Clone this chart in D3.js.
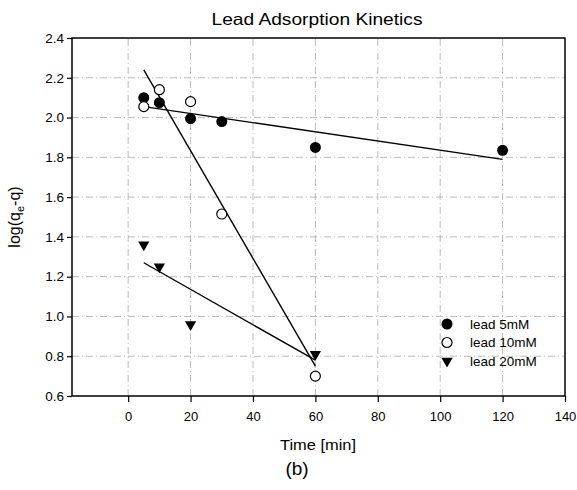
<!DOCTYPE html>
<html>
<head>
<meta charset="utf-8">
<script src="https://cdn.jsdelivr.net/npm/d3@7"></script>
<style>
  body { margin: 0; background: #fff; }
  svg { font-family: "Liberation Sans", Arial, sans-serif; }
</style>
</head>
<body>
<div id="chart"></div>
<script>
// Data
const series = ["lead 5mM", "lead 10mM", "lead 20mM"]
const lead5 = [[5, 2.10], [10, 2.075], [20, 1.995], [30, 1.98], [60, 1.85], [120, 1.835]]
const lead10 = [[5, 2.055], [10, 2.14], [20, 2.08], [30, 1.515], [60, 0.70]]
const lead20 = [[5, 1.36], [10, 1.25], [20, 0.96], [60, 0.81]]

// Fitted lines (endpoints)
const fit5 = [[5, 2.055], [120, 1.79]]
const fit10 = [[5, 2.24], [60, 0.75]]
const fit20 = [[5, 1.27], [60, 0.78]]

const xTicks = [0, 20, 40, 60, 80, 100, 120, 140]
const yTicks = [0.6, 0.8, 1.0, 1.2, 1.4, 1.6, 1.8, 2.0, 2.2, 2.4]

const width = 577, height = 490
const margin = {top: 38, right: 12, bottom: 94, left: 72}

const svg = d3.select("#chart").append("svg")
   .attr("width", width)
   .attr("height", height)

const x = d3.scaleLinear().domain([-18, 140]).range([margin.left, width - margin.right])
const y = d3.scaleLinear().domain([0.6, 2.4]).range([height - margin.bottom, margin.top])

// Grid
svg.append("g").selectAll("line.vgrid")
   .data(xTicks.filter(d => d > -18 && d < 140))
   .enter().append("line")
      .attr("x1", d => x(d)).attr("x2", d => x(d))
      .attr("y1", y(0.6)).attr("y2", y(2.4))
      .attr("stroke", "#aaa")
      .attr("stroke-width", 0.8)
      .attr("stroke-dasharray", "7,3,1,3")

svg.append("g").selectAll("line.hgrid")
   .data(yTicks.filter(d => d > 0.6 && d < 2.4))
   .enter().append("line")
      .attr("x1", x(-18)).attr("x2", x(140))
      .attr("y1", d => y(d)).attr("y2", d => y(d))
      .attr("stroke", "#aaa")
      .attr("stroke-width", 0.8)
      .attr("stroke-dasharray", "7,3,1,3")

// Frame
svg.append("rect")
   .attr("x", x(-18)).attr("y", y(2.4))
   .attr("width", x(140) - x(-18))
   .attr("height", y(0.6) - y(2.4))
   .attr("fill", "none")
   .attr("stroke", "#000")
   .attr("stroke-width", 1.5)

// Axes
const xAxis = svg.append("g")
   .attr("transform", "translate(0," + y(0.6) + ")")
   .call(d3.axisBottom(x).tickValues(xTicks).tickSize(6).tickPadding(10).tickFormat(d3.format("d")))
const yAxis = svg.append("g")
   .attr("transform", "translate(" + x(-18) + ",0)")
   .call(d3.axisLeft(y).tickValues(yTicks).tickSize(5).tickPadding(3).tickFormat(d3.format(".1f")))

;[xAxis, yAxis].forEach(function(a) {
   a.select(".domain").remove()
   a.selectAll("line").attr("stroke", "#000").attr("stroke-width", 1.2)
   a.selectAll("text").attr("font-size", 13.5).attr("fill", "#000")
      .attr("font-family", "'Liberation Sans', Arial, sans-serif")
})
xAxis.selectAll("text").attr("font-size", 13)

// Fit lines
const line = d3.line().x(d => x(d[0])).y(d => y(d[1]))
;[fit5, fit10, fit20].forEach(function(f) {
   svg.append("path")
      .attr("d", line(f))
      .attr("fill", "none")
      .attr("stroke", "#000")
      .attr("stroke-width", 1.4)
})

// Markers
const tri = d3.symbol().type(d3.symbolTriangle).size(55)

function drawMarker(g, kind, px, py) {
   if(kind == 0) {
      g.append("circle").attr("cx", px).attr("cy", py).attr("r", 5.5).attr("fill", "#000")
   } else if(kind == 1) {
      g.append("circle").attr("cx", px).attr("cy", py).attr("r", 5).attr("fill", "#fff")
         .attr("stroke", "#000").attr("stroke-width", 1.2)
   } else {
      g.append("path").attr("d", tri())
         .attr("transform", "translate(" + px + "," + py + ") rotate(180)")
         .attr("fill", "#000")
   }
}

const points = svg.append("g")
;[lead5, lead10, lead20].forEach(function(data, k) {
   data.forEach(function(d) { drawMarker(points, k, x(d[0]), y(d[1])) })
})

// Legend
const legend = svg.append("g")
series.forEach(function(name, k) {
   let ly = 324 + k * 18.5
   drawMarker(legend, k, 447, ly)
   legend.append("text")
      .attr("x", 470).attr("y", ly)
      .attr("dy", "0.35em")
      .attr("font-size", 13.5)
      .text(name)
})

// Title and labels (the scan is slightly stretched horizontally)
svg.append("text")
   .attr("x", 317).attr("y", 24.5)
   .attr("text-anchor", "middle")
   .attr("font-size", 16.5)
   .attr("textLength", 211)
   .attr("lengthAdjust", "spacingAndGlyphs")
   .text("Lead Adsorption Kinetics")

svg.append("text")
   .attr("x", 318).attr("y", 450)
   .attr("text-anchor", "middle")
   .attr("font-size", 15)
   .attr("textLength", 76)
   .attr("lengthAdjust", "spacingAndGlyphs")
   .text("Time [min]")

svg.append("text")
   .attr("x", 297).attr("y", 475)
   .attr("text-anchor", "middle")
   .attr("font-size", 19)
   .text("(b)")

const ylab = svg.append("text")
   .attr("transform", "translate(20," + y(1.5) + ") rotate(-90)")
   .attr("text-anchor", "middle")
   .attr("font-size", 16)
ylab.append("tspan").text("log(q")
ylab.append("tspan").attr("font-size", 11).attr("dy", 4).text("e")
ylab.append("tspan").attr("dy", -4).text("-q)")
</script>
</body>
</html>
